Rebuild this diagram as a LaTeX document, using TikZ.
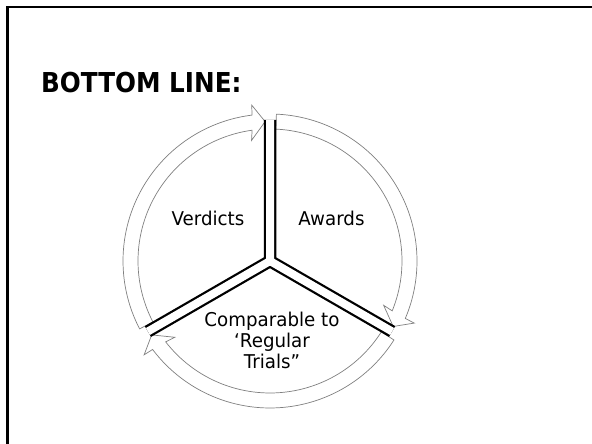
\documentclass[tikz,border=0pt]{standalone}
\usepackage{fontspec}
\setmainfont{DejaVu Sans}
\newfontfamily\titlefont[FakeStretch=0.9]{DejaVu Sans}
\newfontfamily\bodyfont[FakeStretch=0.96]{DejaVu Sans}
\newcommand\cycarrow[2]{%
  \draw[ring] ([shift={(C)}]#1:147) arc[start angle=#1, end angle=#2+5, radius=147]
    -- ([shift={(C)}]#2+4.7:157) -- ([shift={(C)}]#2:139.5)
    -- ([shift={(C)}]#2+6.7:122) -- ([shift={(C)}]#2+5.8:132)
    arc[start angle=#2+5.8, end angle=#1, radius=132] -- cycle;}
\begin{document}
\begin{tikzpicture}[x=1pt,y=1pt,
  ring/.style={draw=black!50, line width=0.7pt, fill=white, line join=miter},
  divblack/.style={line width=12.5pt, draw=black, line cap=butt},
  divwhite/.style={line width=8pt, draw=white, line cap=butt},
  lbl/.style={font=\bodyfont\fontsize{19}{21.3}\selectfont, inner sep=0pt}]
\useasboundingbox (0,0) rectangle (592,444);
\fill[white] (0,0) rectangle (592,444);
\draw[line width=2.4pt, line join=miter] (7.5,0) -- (7.5,436.8) -- (592,436.8);
\node[anchor=base west, inner sep=0pt, font=\titlefont\bfseries\fontsize{27.4}{30}\selectfont] (title) at (41,351) {BOTTOM LINE:};
\coordinate (C) at (270,183);
% ring arrows
\cycarrow{207.5}{92}
\cycarrow{87.5}{-28}
\cycarrow{-32.5}{-148}
% dividers
\coordinate (D1) at ([shift={(C)}]90:141);
\coordinate (D2) at ([shift={(C)}]210:141);
\coordinate (D3) at ([shift={(C)}]-30:141);
\draw[divblack] (C) -- (D1) (C) -- (D2) (C) -- (D3);
\draw[divwhite] (C) -- (D1) (C) -- (D2) (C) -- (D3);
\fill[white] (C) circle (3.5);
% labels
\node[lbl, anchor=base] (verd) at (208,218) {Verdicts};
\node[lbl, anchor=base] (awd) at (331.5,218) {Awards};
\node[lbl, align=center, anchor=north] (comp) at (272,132.3) {Comparable to\\‘Regular\\Trials”};
\end{tikzpicture}
\end{document}
